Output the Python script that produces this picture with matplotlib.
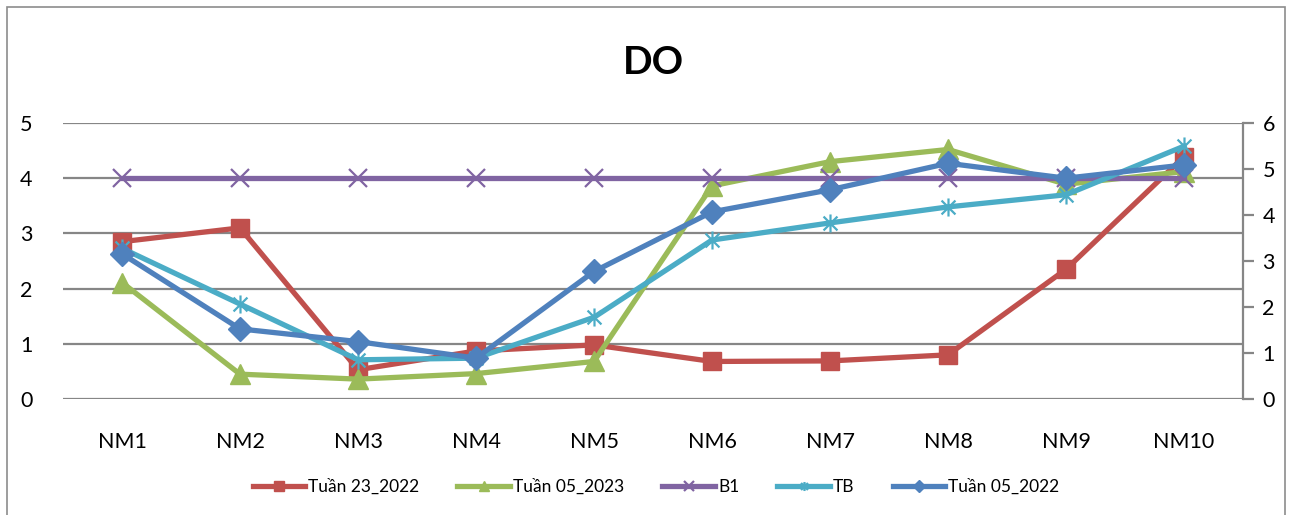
import matplotlib
matplotlib.use("Agg")
import matplotlib.pyplot as plt
from matplotlib.path import Path
from matplotlib.patches import Rectangle

plt.rcParams['font.family'] = ['Lato', 'DejaVu Sans']

categories = ["NM1", "NM2", "NM3", "NM4", "NM5", "NM6", "NM7", "NM8", "NM9", "NM10"]
tuan23_2022 = [2.85, 3.10, 0.53, 0.87, 0.98, 0.68, 0.69, 0.80, 2.35, 4.39]
tuan05_2023 = [2.11, 0.45, 0.36, 0.46, 0.68, 3.86, 4.30, 4.52, 3.89, 4.12]
b1 = [4, 4, 4, 4, 4, 4, 4, 4, 4, 4]
tb = [2.73, 1.72, 0.71, 0.74, 1.48, 2.88, 3.19, 3.48, 3.70, 4.58]
tuan05_2022 = [2.63, 1.27, 1.04, 0.74, 2.31, 3.39, 3.79, 4.27, 4.00, 4.24]

left_ticks = [0, 1, 2, 3, 4, 5]
right_ticks = [0, 1, 2, 3, 4, 5, 6]

W, H = 1290, 515
fig = plt.figure(figsize=(W / 100, H / 100), dpi=100)
fig.patches.append(Rectangle((7 / W, -0.01), (1285 - 7) / W, (H - 7) / H + 0.01,
                             transform=fig.transFigure, fill=False,
                             edgecolor='#8c8c8c', linewidth=1.2))

ax = fig.add_axes([63 / W, (H - 399) / H, (1243 - 63) / W, (399 - 123) / H])
ax2 = ax.twinx()

# star marker (X plus vertical line)
star = Path([(-1, -1), (1, 1), (-1, 1), (1, -1), (0, -1.3), (0, 1.3)],
            [Path.MOVETO, Path.LINETO, Path.MOVETO, Path.LINETO, Path.MOVETO, Path.LINETO])

x = list(range(len(categories)))
lw = 3.8
ax.plot(x, tuan23_2022, color='#C0504D', lw=lw, marker='s', ms=13, label='Tuần 23_2022')
ax.plot(x, tuan05_2023, color='#9BBB59', lw=lw, marker='^', ms=14, label='Tuần 05_2023')
ax.plot(x, b1, color='#8064A2', lw=lw, marker='x', ms=13, mew=1.6, label='B1')
ax.plot(x, tb, color='#4BACC6', lw=lw, marker=star, ms=13, mew=1.6, label='TB')
ax.plot(x, tuan05_2022, color='#4F81BD', lw=lw, marker='D', ms=12, label='Tuần 05_2022')

ax.set_xlim(-0.5, len(categories) - 0.5)
ax.set_ylim(0, 5)
ax.set_yticks(left_ticks)
ax.set_xticks(x)
ax.set_xticklabels(categories)
ax.grid(axis='y', color='#868686', lw=1.6)
ax.set_axisbelow(True)
for s in ['left', 'top', 'bottom', 'right']:
    ax.spines[s].set_visible(False)
ax.tick_params(axis='y', length=0, pad=22, labelsize=15.5)
ax.tick_params(axis='x', length=0, pad=24, labelsize=15.5)

ax2.set_ylim(0, 6)
ax2.set_yticks(right_ticks)
for s in ['left', 'top', 'bottom']:
    ax2.spines[s].set_visible(False)
ax2.spines['right'].set_color('#868686')
ax2.spines['right'].set_linewidth(1.6)
ax2.tick_params(axis='y', length=8, width=1.6, color='#868686', pad=6, labelsize=15.5)
ax.set_zorder(ax2.get_zorder() + 1)
ax.patch.set_visible(False)

fig.text(653 / W, (H - 62) / H, 'DO', ha='center', va='center', fontsize=28, fontweight='bold')

ax.legend(loc='center', bbox_to_anchor=(656 / W, (H - 487) / H), bbox_transform=fig.transFigure,
          ncol=5, frameon=False, fontsize=12.5, handlelength=3, columnspacing=2.2,
          handletextpad=0.2, markerscale=0.5)

fig.savefig('out.png', dpi=100)
